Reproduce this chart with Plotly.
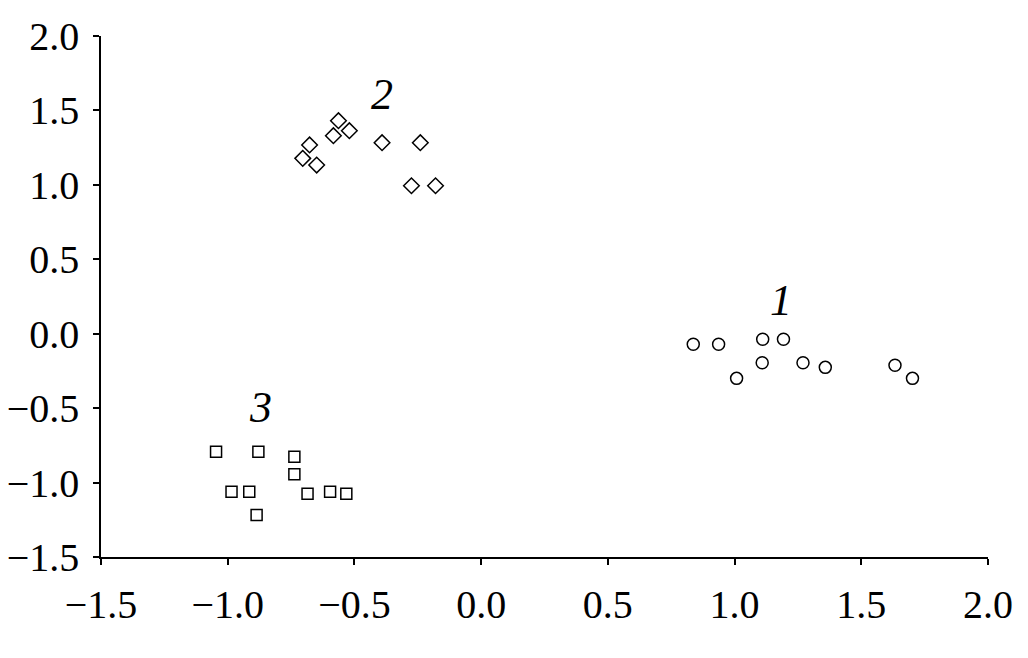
import plotly.graph_objects as go

# Group 1 (circles)
g1_x = [0.837, 0.937, 1.111, 1.193, 1.008, 1.109, 1.270, 1.358, 1.633, 1.702]
g1_y = [-0.071, -0.071, -0.037, -0.037, -0.300, -0.195, -0.195, -0.226, -0.212, -0.300]
# Group 2 (diamonds)
g2_x = [-0.563, -0.583, -0.520, -0.677, -0.704, -0.649, -0.391, -0.240, -0.275, -0.180]
g2_y = [1.431, 1.330, 1.364, 1.268, 1.178, 1.133, 1.283, 1.283, 0.994, 0.994]
# Group 3 (squares)
g3_x = [-1.046, -0.879, -0.737, -0.737, -0.985, -0.915, -0.685, -0.596, -0.532, -0.886]
g3_y = [-0.793, -0.793, -0.826, -0.944, -1.061, -1.061, -1.075, -1.061, -1.075, -1.218]

labels = ["1", "2", "3"]
label_x = [1.185, -0.393, -0.871]
label_y = [0.226, 1.604, -0.499]

tick_vals = [-1.5, -1.0, -0.5, 0.0, 0.5, 1.0, 1.5, 2.0]

fig = go.Figure()
for xs, ys, sym, sz in [(g1_x, g1_y, "circle-open", 12), (g2_x, g2_y, "diamond-open", 12), (g3_x, g3_y, "square-open", 11)]:
    fig.add_trace(go.Scatter(
        x=xs, y=ys, mode="markers",
        marker=dict(symbol=sym, size=sz, color="black", line=dict(width=1.5, color="black")),
        showlegend=False, cliponaxis=False,
    ))

for t, lx, ly in zip(labels, label_x, label_y):
    fig.add_annotation(x=lx, y=ly, text="<i>" + t + "</i>", showarrow=False,
                       font=dict(family="Liberation Serif, Times New Roman, serif", size=44, color="black"))

axis_common = dict(
    tickvals=tick_vals,
    ticktext=[("−" if v < 0 else "") + f"{abs(v):.1f}" for v in tick_vals],
    showgrid=False, zeroline=False, automargin=False,
    showline=True, linecolor="black", linewidth=1.5,
    ticks="outside", ticklen=6, tickwidth=1.5, tickcolor="black",
    tickfont=dict(family="Liberation Serif, Times New Roman, serif", size=40, color="black"),
)

fig.update_layout(
    width=1028, height=658,
    margin=dict(l=101, r=40, t=36, b=101),
    plot_bgcolor="white", paper_bgcolor="white",
    xaxis=dict(range=[-1.5, 2.0], ticklabelstandoff=5, **axis_common),
    yaxis=dict(range=[-1.5, 2.0], ticklabelstandoff=6, **axis_common),
)

fig.write_html(
    "out.html",
    config={"displayModeBar": False},
    post_script="document.body.style.margin='0';document.body.style.overflow='hidden';",
)
